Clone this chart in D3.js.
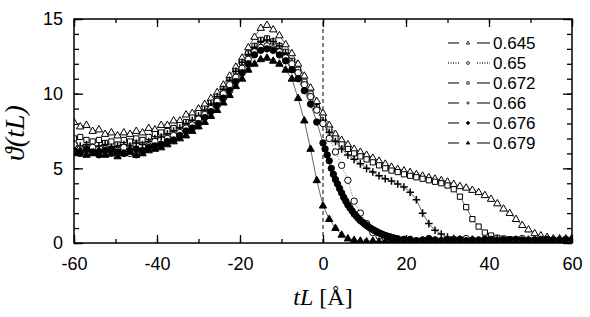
<!DOCTYPE html>
<html>
<head>
<meta charset="utf-8">
<script src="https://cdn.jsdelivr.net/npm/d3@7"></script>
<style>
  body { margin: 0; background: #fff; }
</style>
</head>
<body>
<div id="vis"></div>
<script>
// ---- Data ----
const tL = [
  -60, -58.5, -57, -55.5, -54, -52.5, -51, -49.5, -48, -46.5,
  -45, -43.5, -42, -40.5, -39, -37.5, -36, -34.5, -33, -31.5,
  -30, -28.5, -27, -25.5, -24, -22.5, -21, -19.5, -18, -16.5,
  -15, -13.5, -12, -10.5, -9, -7.5, -6, -4.5, -3, -1.5,
  0, 1.5, 3, 4.5, 6, 7.5, 9, 10.5, 12, 13.5,
  15, 16.5, 18, 19.5, 21, 22.5, 24, 25.5, 27, 28.5,
  30, 31.5, 33, 34.5, 36, 37.5, 39, 40.5, 42, 43.5,
  45, 46.5, 48, 49.5, 51, 52.5, 54, 55.5, 57, 58.5,
  60
];

const theta645 = [
  8.1, 7.8, 7.9, 7.5, 7.6, 7.3, 7.4, 7.2, 7.4, 7.3,
  7.5, 7.4, 7.7, 7.6, 7.9, 7.9, 8.2, 8.2, 8.6, 8.7,
  9.0, 9.3, 9.7, 10.1, 10.6, 11.2, 11.8, 12.4, 13.1, 13.8,
  14.4, 14.6, 14.3, 13.9, 13.3, 12.7, 12.0, 11.2, 10.4, 9.5,
  8.7, 7.9, 7.3, 6.9, 6.6, 6.3, 6.1, 5.9, 5.7, 5.5,
  5.3, 5.1, 4.95, 4.85, 4.75, 4.6, 4.5, 4.4, 4.3, 4.2,
  4.1, 3.95, 3.8, 3.7, 3.55, 3.4, 3.2, 2.95, 2.65, 2.3,
  2.0, 1.6, 1.2, 0.9, 0.65, 0.5, 0.4, 0.3, 0.3, 0.3,
  0.35
];

const theta65 = [
  6.6, 6.3, 6.2, 6.4, 6.1, 6.3, 6.0, 6.2, 6.4, 6.0,
  5.9, 6.1, 6.5, 6.8, 6.6, 7.0, 7.2, 7.4, 7.7, 7.9,
  8.3, 8.6, 9.0, 9.5, 10.0, 10.6, 11.1, 11.7, 12.3, 12.8,
  13.1, 13.2, 13.0, 12.8, 12.4, 12.0, 11.4, 10.6, 9.8, 8.9,
  8.0, 7.0, 6.1, 5.2, 4.2, 2.8, 2.0, 1.3, 0.7, 0.45,
  0.3, 0.25, 0.2, 0.2, 0.25, 0.15, 0.2, 0.3, 0.2, 0.15,
  0.2, 0.25, 0.2, 0.3, 0.2, 0.15, 0.2, 0.25, 0.2, 0.2,
  0.15, 0.2, 0.3, 0.2, 0.2, 0.25, 0.15, 0.2, 0.2, 0.25,
  0.2
];

const theta672 = [
  7.0, 7.1, 6.9, 6.8, 6.9, 6.7, 6.8, 6.6, 6.9, 6.8,
  7.0, 6.9, 7.1, 7.3, 7.4, 7.5, 7.7, 7.9, 8.1, 8.4,
  8.7, 9.0, 9.4, 9.8, 10.3, 10.9, 11.5, 12.1, 12.7, 13.2,
  13.6, 13.7, 13.5, 13.2, 12.8, 12.2, 11.6, 10.8, 10.0, 9.1,
  8.4, 7.6, 7.0, 6.6, 6.3, 6.0, 5.8, 5.6, 5.4, 5.2,
  5.0, 4.85, 4.75, 4.6, 4.5, 4.4, 4.3, 4.2, 4.1, 4.0,
  3.85, 3.6, 3.1, 2.4, 1.6, 1.1, 0.7, 0.5, 0.35, 0.3,
  0.25, 0.2, 0.25, 0.2, 0.15, 0.2, 0.25, 0.2, 0.2, 0.15,
  0.2
];

const theta66 = [
  6.7, 6.5, 6.6, 6.4, 6.5, 6.6, 6.4, 6.5, 6.6, 6.5,
  6.7, 6.6, 6.8, 7.0, 7.1, 7.3, 7.5, 7.7, 8.0, 8.2,
  8.5, 8.9, 9.3, 9.8, 10.3, 10.9, 11.5, 12.1, 12.6, 13.1,
  13.5, 13.6, 13.5, 13.2, 12.7, 12.1, 11.4, 10.6, 9.8, 9.0,
  8.2, 7.4, 6.8, 6.3, 5.9, 5.6, 5.3, 5.0, 4.75, 4.5,
  4.3, 4.15, 3.95, 3.75, 3.4, 2.9, 2.0, 1.3, 0.85, 0.6,
  0.4, 0.3, 0.25, 0.2, 0.25, 0.2, 0.15, 0.2, 0.3, 0.2,
  0.2, 0.15, 0.2, 0.25, 0.2, 0.2, 0.15, 0.2, 0.25, 0.2,
  0.2
];

// 0.676 is sampled more finely through its drop
const tL676 = [
  -60, -58.5, -57, -55.5, -54, -52.5, -51, -49.5, -48, -46.5,
  -45, -43.5, -42, -40.5, -39, -37.5, -36, -34.5, -33, -31.5,
  -30, -28.5, -27, -25.5, -24, -22.5, -21, -19.5, -18, -16.5,
  -15, -13.5, -12, -10.5, -9, -7.5, -6, -4.5, -3, -1.5,
  0, 0.5, 1, 1.5, 2, 2.5, 3, 3.5, 4, 4.5,
  5, 5.5, 6, 6.5, 7, 7.5, 8, 8.5, 9, 9.5,
  10, 10.5, 11, 11.5, 12, 12.5, 13, 13.5, 14, 14.5,
  15, 15.5, 16, 16.5, 17, 17.5, 18,
  19.5, 21, 22.5, 24, 25.5, 27, 28.5, 30, 31.5, 33,
  34.5, 36, 37.5, 39, 40.5, 42, 43.5, 45, 46.5, 48,
  49.5, 51, 52.5, 54, 55.5, 57, 58.5, 60
];

const theta676 = [
  6.2, 6.0, 6.3, 6.1, 5.9, 6.2, 6.3, 6.1, 6.0, 6.2,
  6.3, 6.2, 6.4, 6.5, 6.6, 6.8, 6.9, 7.2, 7.5, 7.7,
  8.0, 8.4, 8.8, 9.2, 9.7, 10.2, 10.8, 11.4, 12.0, 12.6,
  12.9, 13.0, 12.9, 12.6, 12.2, 11.6, 11.0, 10.2, 9.3, 8.1,
  6.7, 6.3, 5.9, 5.5, 5.0, 4.6, 4.25, 3.95, 3.65, 3.35,
  3.05, 2.8, 2.55, 2.35, 2.15, 1.95, 1.8, 1.65, 1.5, 1.4,
  1.28, 1.17, 1.07, 0.98, 0.9, 0.82, 0.75, 0.68, 0.62, 0.56,
  0.5, 0.46, 0.42, 0.38, 0.34, 0.3, 0.28,
  0.25, 0.2, 0.15, 0.2, 0.25, 0.2, 0.15, 0.2, 0.2, 0.25,
  0.15, 0.2, 0.2, 0.25, 0.2, 0.15, 0.2, 0.2, 0.25, 0.2,
  0.15, 0.2, 0.2, 0.25, 0.2, 0.15, 0.2, 0.2
];

const theta679 = [
  6.0, 6.2, 5.9, 6.0, 6.2, 5.9, 6.0, 5.8, 6.0, 6.1,
  5.9, 6.0, 6.2, 6.3, 6.4, 6.6, 6.8, 7.0, 7.2, 7.5,
  7.8, 8.1, 8.5, 8.9, 9.4, 9.9, 10.5, 11.0, 11.6, 12.0,
  12.3, 12.4, 12.2, 12.0, 11.6, 11.0, 9.7, 8.2, 6.3, 4.2,
  2.5, 1.6, 1.0, 0.55, 0.3, 0.2, 0.15, 0.1, 0.15, 0.1,
  0.1, 0.15, 0.1, 0.1, 0.15, 0.1, 0.1, 0.15, 0.1, 0.1,
  0.1, 0.15, 0.1, 0.1, 0.15, 0.1, 0.1, 0.15, 0.1, 0.1,
  0.1, 0.15, 0.1, 0.1, 0.15, 0.1, 0.1, 0.15, 0.1, 0.1,
  0.1
];

const legendLabels = ["0.645", "0.65", "0.672", "0.66", "0.676", "0.679"];
const xTicks = [-60, -40, -20, 0, 20, 40, 60];
const yTicks = [0, 5, 10, 15];

// ---- Layout ----
const outerWidth = 590;
const outerHeight = 317;
const plot = { left: 74, right: 572, top: 19, bottom: 243 };

const x = d3.scaleLinear().domain([-60, 60]).range([plot.left, plot.right]);
const y = d3.scaleLinear().domain([0, 15]).range([plot.bottom, plot.top]);

const svg = d3.select("#vis")
  .append("svg")
  .attr("width", outerWidth)
  .attr("height", outerHeight)
  .style("display", "block");

svg.append("defs").append("clipPath").attr("id", "clip")
  .append("rect")
  .attr("x", plot.left).attr("y", plot.top)
  .attr("width", plot.right - plot.left).attr("height", plot.bottom - plot.top);

const SANS = "'Liberation Sans', Arial, sans-serif";
const SERIF = "'Liberation Serif', 'DejaVu Serif', serif";

// marker shapes, s = scale
function markerPath(type, s) {
  const p = d3.path();
  if (type === "triangle") {
    p.moveTo(0, -4 * s); p.lineTo(3.7 * s, 2.4 * s); p.lineTo(-3.7 * s, 2.4 * s); p.closePath();
  } else if (type === "circle") {
    p.arc(0, 0, 3.2 * s, 0, 2 * Math.PI);
  } else if (type === "square") {
    p.rect(-2.6 * s, -2.6 * s, 5.2 * s, 5.2 * s);
  } else if (type === "plus") {
    p.moveTo(-3.8 * s, 0); p.lineTo(3.8 * s, 0); p.moveTo(0, -3.8 * s); p.lineTo(0, 3.8 * s);
  } else if (type === "dot") {
    p.arc(0, 0, 3.2 * s, 0, 2 * Math.PI);
  }
  return p.toString();
}

const series = [
  { label: "0.645", xs: tL, ys: theta645, marker: "triangle", filled: false, dash: null },
  { label: "0.672", xs: tL, ys: theta672, marker: "square", filled: false, dash: null },
  { label: "0.66", xs: tL, ys: theta66, marker: "plus", filled: false, dash: null },
  { label: "0.65", xs: tL, ys: theta65, marker: "circle", filled: false, dash: "1,2" },
  { label: "0.676", xs: tL676, ys: theta676, marker: "dot", filled: true, dash: null },
  { label: "0.679", xs: tL, ys: theta679, marker: "triangle", filled: true, dash: null }
];

// ---- Axes: inward ticks on all four sides ----
const tickFont = (g) => g.selectAll("text").style("font", `18px ${SANS}`).attr("fill", "#000");
const plainNum = (d) => String(d);

function styleAxis(g) {
  g.select(".domain").remove();
  g.selectAll("line").attr("stroke", "#000").attr("stroke-width", 1.3);
}

svg.append("g")
  .attr("transform", `translate(0,${plot.bottom})`)
  .call(d3.axisBottom(x).tickValues(d3.range(-60, 61, 10)).tickSize(-4).tickFormat(""))
  .call(styleAxis);
svg.append("g")
  .attr("transform", `translate(0,${plot.bottom})`)
  .call(d3.axisBottom(x).tickValues(xTicks).tickSize(-8).tickPadding(14).tickFormat(plainNum))
  .call(styleAxis).call(tickFont);
svg.append("g")
  .attr("transform", `translate(0,${plot.top})`)
  .call(d3.axisTop(x).tickValues(d3.range(-60, 61, 10)).tickSize(-4).tickFormat(""))
  .call(styleAxis);
svg.append("g")
  .attr("transform", `translate(0,${plot.top})`)
  .call(d3.axisTop(x).tickValues(xTicks).tickSize(-8).tickFormat(""))
  .call(styleAxis);

svg.append("g")
  .attr("transform", `translate(${plot.left},0)`)
  .call(d3.axisLeft(y).tickValues(d3.range(0, 16, 1)).tickSize(-5).tickFormat(""))
  .call(styleAxis);
svg.append("g")
  .attr("transform", `translate(${plot.left},0)`)
  .call(d3.axisLeft(y).tickValues(yTicks).tickSize(-9).tickPadding(11).tickFormat(plainNum))
  .call(styleAxis).call(tickFont);
svg.append("g")
  .attr("transform", `translate(${plot.right},0)`)
  .call(d3.axisRight(y).tickValues(d3.range(0, 16, 1)).tickSize(-5).tickFormat(""))
  .call(styleAxis);
svg.append("g")
  .attr("transform", `translate(${plot.right},0)`)
  .call(d3.axisRight(y).tickValues(yTicks).tickSize(-9).tickFormat(""))
  .call(styleAxis);

// vertical dashed line at tL = 0
svg.append("line")
  .attr("x1", x(0)).attr("x2", x(0))
  .attr("y1", y(0)).attr("y2", y(15))
  .attr("stroke", "#000").attr("stroke-width", 1)
  .attr("stroke-dasharray", "4,3");

// ---- Data layer ----
const dataLayer = svg.append("g").attr("clip-path", "url(#clip)");
const line = d3.line().x((d) => x(d[0])).y((d) => y(d[1]));

series.forEach((s) => {
  const pts = s.xs.map((v, i) => [v, s.ys[i]]);
  const g = dataLayer.append("g");
  g.append("path")
    .datum(pts)
    .attr("d", line)
    .attr("fill", "none")
    .attr("stroke", "#555")
    .attr("stroke-width", 0.9)
    .attr("stroke-dasharray", s.dash);
  g.selectAll("path.pt")
    .data(pts)
    .join("path")
    .attr("class", "pt")
    .attr("transform", (d) => `translate(${x(d[0])},${y(d[1])})`)
    .attr("d", markerPath(s.marker, 1))
    .attr("fill", s.marker === "plus" ? "none" : (s.filled ? "#000" : "#fff"))
    .attr("stroke", "#000")
    .attr("stroke-width", s.marker === "plus" ? 1.5 : 1);
});

// frame
svg.append("rect")
  .attr("x", plot.left).attr("y", plot.top)
  .attr("width", plot.right - plot.left).attr("height", plot.bottom - plot.top)
  .attr("fill", "none").attr("stroke", "#000").attr("stroke-width", 1.5);

// ---- Legend ----
const legendStyle = {
  "0.645": { marker: "triangle", filled: false, dash: null },
  "0.65": { marker: "circle", filled: false, dash: "1,1.5" },
  "0.672": { marker: "square", filled: false, dash: null },
  "0.66": { marker: "plus", filled: false, dash: null },
  "0.676": { marker: "dot", filled: true, dash: null },
  "0.679": { marker: "triangle", filled: true, dash: null }
};

const legend = svg.append("g");
legendLabels.forEach((lab, i) => {
  const st = legendStyle[lab];
  const ly = 43 + 20 * i;
  const row = legend.append("g").attr("transform", `translate(0,${ly})`);
  [[448, 459], [477, 490]].forEach(([a, b]) => {
    row.append("line")
      .attr("x1", a).attr("x2", b).attr("y1", 0).attr("y2", 0)
      .attr("stroke", "#333").attr("stroke-width", 1.3)
      .attr("stroke-dasharray", st.dash);
  });
  row.append("path")
    .attr("transform", "translate(468,0)")
    .attr("d", markerPath(st.marker, 0.45))
    .attr("fill", st.marker === "plus" ? "none" : (st.filled ? "#000" : "#fff"))
    .attr("stroke", "#000").attr("stroke-width", 0.8);
  row.append("text")
    .attr("x", 493).attr("y", 6)
    .style("font", `17px ${SANS}`)
    .text(lab);
});

// ---- Axis titles ----
svg.append("text")
  .attr("transform", "translate(24,133) rotate(-90)")
  .attr("text-anchor", "middle")
  .style("font", `italic 28px ${SERIF}`)
  .text("ϑ(tL)");

const xt = svg.append("text")
  .attr("x", 323).attr("y", 305)
  .attr("text-anchor", "middle")
  .style("font", `24px ${SERIF}`);
xt.append("tspan").style("font-style", "italic").text("tL");
xt.append("tspan").text(" [Å]");
</script>
</body>
</html>
